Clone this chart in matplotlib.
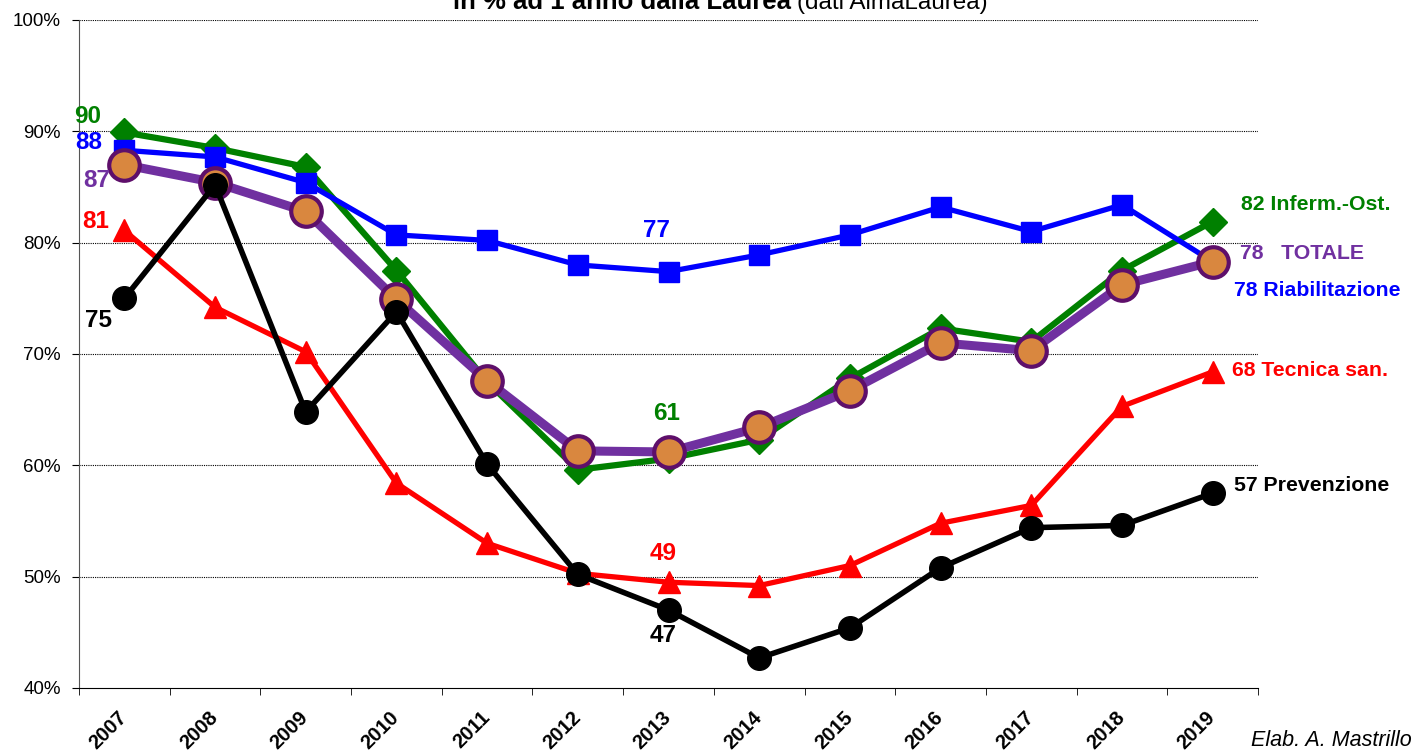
import matplotlib
matplotlib.use("Agg")
import matplotlib.pyplot as plt
from matplotlib.transforms import ScaledTranslation

plt.rcParams['font.family'] = ['Liberation Sans', 'DejaVu Sans']

years = ['2007', '2008', '2009', '2010', '2011', '2012', '2013',
         '2014', '2015', '2016', '2017', '2018', '2019']

inferm = [89.9, 88.5, 86.8, 77.5, 67.5, 59.6, 60.6, 62.3, 67.8, 72.3, 71.1, 77.5, 81.9]
riabil = [88.3, 87.7, 85.4, 80.7, 80.2, 78.0, 77.4, 78.9, 80.7, 83.2, 81.0, 83.4, 78.3]
totale = [87.0, 85.4, 82.8, 74.9, 67.6, 61.3, 61.2, 63.4, 66.7, 71.0, 70.3, 76.2, 78.3]
tecnica = [81.1, 74.2, 70.2, 58.4, 53.0, 50.3, 49.5, 49.2, 51.0, 54.8, 56.4, 65.3, 68.4]
prevenz = [75.0, 85.2, 64.8, 73.8, 60.1, 50.2, 47.0, 42.7, 45.4, 50.8, 54.4, 54.6, 57.5]

GREEN = '#008000'
BLUE = '#0000FF'
PURPLE = '#7030A0'
RED = '#FF0000'
ORANGE = '#D9873F'
DARKPURPLE = '#5E0F6A'

fig = plt.figure(figsize=(14.21, 7.51), dpi=100)
ax = fig.add_axes([79 / 1421, 1 - 688 / 751, (1258 - 79) / 1421, (688 - 20) / 751])

x = list(range(len(years)))

ax.plot(x, inferm, color=GREEN, lw=4.5, marker='D', ms=14, zorder=3)
ax.plot(x, riabil, color=BLUE, lw=3.8, marker='s', ms=15, zorder=4)
ax.plot(x, tecnica, color=RED, lw=3.8, marker='^', ms=16, zorder=4)
ax.plot(x, totale, color=PURPLE, lw=6.5, marker='o', ms=22, mfc=ORANGE,
        mec=DARKPURPLE, mew=3, zorder=5)
ax.plot(x, prevenz, color='black', lw=4, marker='o', ms=17, zorder=6)

ax.set_xlim(-0.5, len(years) - 0.5)
ax.set_ylim(40, 100)
ax.set_yticks([40, 50, 60, 70, 80, 90, 100])
ax.set_yticklabels([f'{v}%' for v in range(40, 101, 10)], fontsize=13.5)
ax.set_xticks(x)
ax.set_xticklabels(years, rotation=45, fontsize=14.5, fontweight='bold',
                   ha='right', rotation_mode='anchor')
ax.tick_params(axis='x', length=0, pad=14)
# shift year labels a little to the left, as in the original
shift = ScaledTranslation(-7 / 100, 0, fig.dpi_scale_trans)
for lab in ax.get_xticklabels():
    lab.set_transform(lab.get_transform() + shift)
ax.set_xticks([i - 0.5 for i in range(len(years) + 1)], minor=True)
ax.tick_params(axis='x', which='minor', length=5, direction='out')
ax.tick_params(axis='y', length=5, direction='out', pad=8)

for v in [50, 60, 70, 80, 90, 100]:
    ax.axhline(v, color='black', lw=0.8, ls=(0, (1, 1)), zorder=1)

ax.spines['top'].set_visible(False)
ax.spines['right'].set_visible(False)
ax.spines['left'].set_color('#555555')

bold = dict(fontsize=17.5, fontweight='bold', ha='center', va='center', zorder=10)
ax.text(-0.41, 91.3, '90', color=GREEN, **bold)
ax.text(-0.39, 89.0, '88', color=BLUE, **bold)
ax.text(-0.30, 85.6, '87', color=PURPLE, **bold)
ax.text(-0.32, 81.9, '81', color=RED, **bold)
ax.text(-0.29, 73.05, '75', color='black', **bold)
ax.text(5.87, 81.1, '77', color=BLUE, **bold)
ax.text(5.98, 64.7, '61', color=GREEN, **bold)
ax.text(5.94, 52.1, '49', color=RED, **bold)
ax.text(5.94, 44.7, '47', color='black', **bold)

side = dict(fontsize=15.3, fontweight='bold', ha='left', va='center')
ax.text(12.31, 83.4, '82 Inferm.-Ost.', color=GREEN, **side)
ax.text(12.30, 79.0, '78   TOTALE', color=PURPLE, **side)
ax.text(12.24, 75.7, '78 Riabilitazione', color=BLUE, **side)
ax.text(12.21, 68.5, '68 Tecnica san.', color=RED, **side)
ax.text(12.23, 58.2, '57 Prevenzione', color='black', **side)

fig.text(791 / 1421, 1 - 9 / 751, 'in % ad 1 anno dalla Laurea', fontsize=18.5,
         fontweight='bold', ha='right', va='baseline')
fig.text(797 / 1421, 1 - 9 / 751, '(dati AlmaLaurea)', fontsize=17.5,
         ha='left', va='baseline')
fig.text(1412 / 1421, 1 - 741 / 751, 'Elab. A. Mastrillo', fontsize=15.5,
         style='italic', ha='right', va='center')

fig.savefig('out.png', dpi=100)
